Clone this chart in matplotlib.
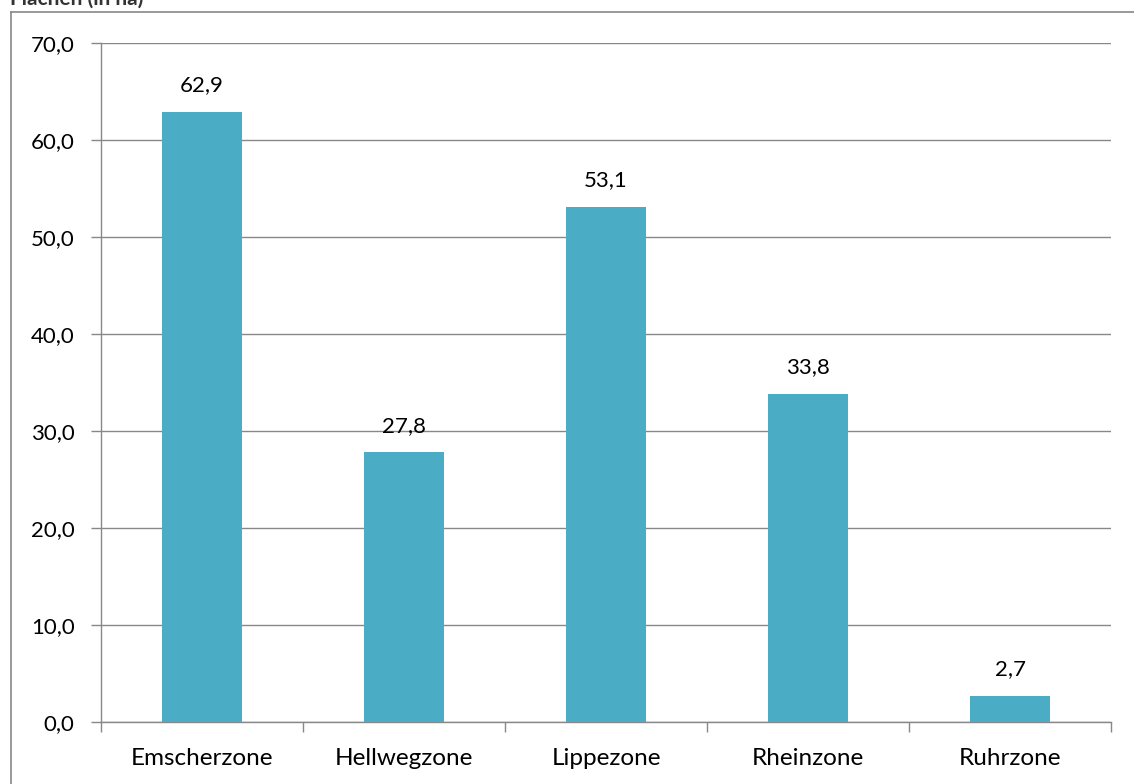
import matplotlib.pyplot as plt
from matplotlib.lines import Line2D
import numpy as np

zonen = ["Emscherzone", "Hellwegzone", "Lippezone", "Rheinzone", "Ruhrzone"]
flaechen = [62.9, 27.8, 53.1, 33.8, 2.7]
titel = "Flächen (in ha)"

plt.rcParams['font.family'] = ['Lato', 'DejaVu Sans']

fig = plt.figure(figsize=(11.34, 7.84), dpi=100)
W, H = 1134, 784
ax = fig.add_axes([101 / W, 1 - 722 / H, 1010 / W, (722 - 43) / H])

x = np.arange(len(zonen))
ax.bar(x, flaechen, width=0.4, color="#4BACC6", zorder=3)
for xi, v in zip(x, flaechen):
    ax.annotate(f"{v:.1f}".replace(".", ","), (xi, v), xytext=(0, 12),
                textcoords="offset points", ha="center", va="bottom", fontsize=16)

ax.set_xlim(-0.5, len(zonen) - 0.5)
ax.set_ylim(0, 70)
ax.set_yticks(np.arange(0, 71, 10))
ax.set_yticklabels([f"{t:.1f}".replace(".", ",") for t in np.arange(0, 71, 10)], fontsize=16)
ax.set_xticks(x)
ax.set_xticklabels(zonen, fontsize=17.5)
ax.set_xticks(np.arange(-0.5, len(zonen), 1), minor=True)
ax.tick_params(axis="x", which="major", length=0, pad=19)
ax.tick_params(axis="x", which="minor", length=7, color="#888888", width=1)
ax.tick_params(axis="y", length=7, color="#888888", width=1, pad=12)
ax.yaxis.grid(True, color="#888888", linewidth=1, zorder=0)
for s in ["top", "right"]:
    ax.spines[s].set_visible(False)
for s in ["left", "bottom"]:
    ax.spines[s].set_color("#888888")
    ax.spines[s].set_linewidth(1)

# Rahmen
fig.add_artist(Line2D([11 / W, 11 / W], [0, 1 - 12 / H], color="#888888", lw=1.2))
fig.add_artist(Line2D([11 / W, 1], [1 - 12 / H, 1 - 12 / H], color="#888888", lw=1.2))

fig.text(10 / W, 1 - 5 / H, titel, fontsize=15, fontweight="bold", va="baseline", ha="left",
         color="#333333")

fig.savefig("out.png", dpi=100)
